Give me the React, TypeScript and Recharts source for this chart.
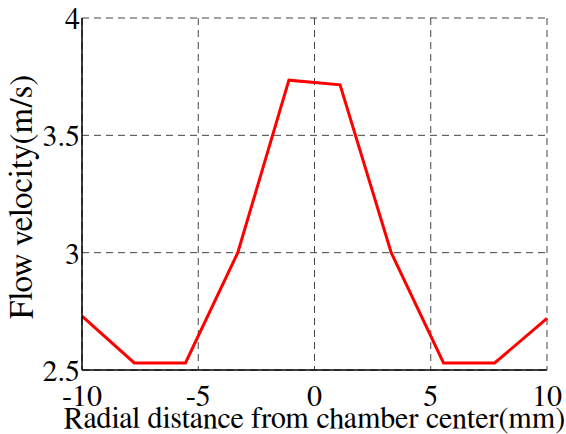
import React from "react";
import { LineChart, Line, XAxis, YAxis, CartesianGrid } from "recharts";

const radialDistance = [-10, -7.75, -5.55, -3.3, -1.1, 1.1, 3.3, 5.55, 7.75, 10];
const flowVelocity = [2.73, 2.53, 2.53, 3.0, 3.735, 3.715, 3.0, 2.53, 2.53, 2.72];
const xTicks = [-10, -5, 0, 5, 10];
const yTicks = [2.5, 3, 3.5, 4];
const xTitle = "Radial distance from chamber center(mm)";
const yTitle = "Flow velocity(m/s)";

const data = radialDistance.map((x, i) => ({ x, v: flowVelocity[i] }));

const FONT = "FreeSerif, 'Liberation Serif', serif";
const FS = 30;

const XTick = (props: any) => {
  const { x, y, payload } = props;
  return (
    <text x={x} y={y + 28} textAnchor="middle" fill="#000" fontSize={FS} fontFamily={FONT}>
      {payload.value}
    </text>
  );
};

const YTick = (props: any) => {
  const { x, y, payload } = props;
  return (
    <text x={x + 6} y={y + 11} textAnchor="end" fill="#000" fontSize={FS} fontFamily={FONT}>
      {payload.value}
    </text>
  );
};

const XLabel = (props: any) => {
  const vb = props.viewBox || {};
  const cx = vb.x + vb.width / 2;
  return (
    <text x={cx} y={428} textAnchor="middle" fill="#000" fontSize={FS} fontFamily={FONT}>
      {xTitle}
    </text>
  );
};

const YLabel = (props: any) => {
  const vb = props.viewBox || {};
  const cy = vb.y + vb.height / 2 + 3;
  const bx = 32;
  return (
    <text x={bx} y={cy} textAnchor="middle" fill="#000" fontSize={33} fontFamily={FONT} transform={`rotate(-90, ${bx}, ${cy})`}>
      {yTitle}
    </text>
  );
};

export default function App() {
  return (
    <div style={{ position: "absolute", left: 0, top: 0, background: "#fff" }}>
      <LineChart width={566} height={434} data={data} margin={{ top: 18, right: 19, bottom: 0, left: 0 }}>
        <CartesianGrid stroke="#444" strokeDasharray="7 5" strokeWidth={1} />
        <XAxis
          dataKey="x"
          type="number"
          domain={[-10, 10]}
          ticks={xTicks}
          height={64}
          tickLine={false}
          axisLine={{ stroke: "#000", strokeWidth: 1.5 }}
          tick={<XTick />}
          label={<XLabel />}
        />
        <XAxis xAxisId="top" orientation="top" dataKey="x" type="number" domain={[-10, 10]} height={0} tick={false} tickLine={false} axisLine={{ stroke: "#000", strokeWidth: 1.5 }} />
        <YAxis
          type="number"
          domain={[2.5, 4]}
          ticks={yTicks}
          width={82}
          tickLine={false}
          axisLine={{ stroke: "#000", strokeWidth: 1.5 }}
          tick={<YTick />}
          label={<YLabel />}
        />
        <YAxis yAxisId="right" orientation="right" type="number" domain={[2.5, 4]} width={0} tick={false} tickLine={false} axisLine={{ stroke: "#000", strokeWidth: 1.5 }} />
        <Line type="linear" dataKey="v" stroke="#ff0000" strokeWidth={3} dot={false} isAnimationActive={false} />
      </LineChart>
    </div>
  );
}
